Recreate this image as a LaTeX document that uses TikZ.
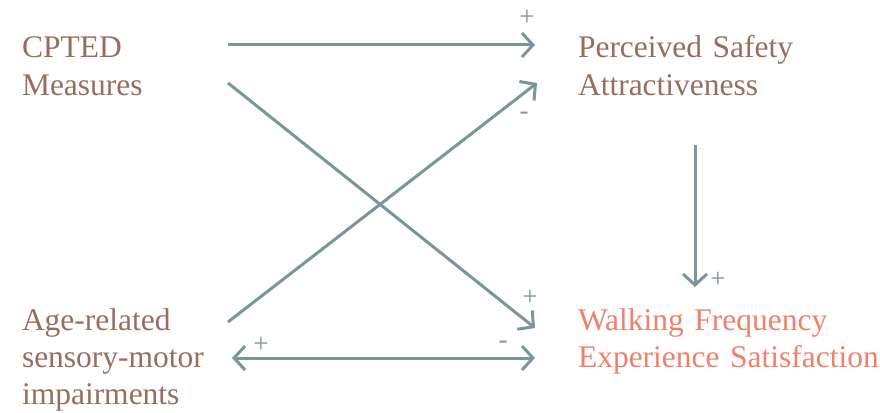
\documentclass[tikz,border=0pt]{standalone}
\usepackage{xcolor}
\usepackage{fontspec}
\setmainfont{Liberation Serif}
\usetikzlibrary{arrows.meta}

\definecolor{textbrown}{HTML}{966E5F}
\definecolor{salmon}{HTML}{F07F6C}
\definecolor{arrowgrey}{HTML}{7C959B}

\begin{document}
\begin{tikzpicture}[x=1pt, y=-1pt,
    label/.style={inner sep=0, outer sep=0, align=left, anchor=base west,
        font=\fontsize{31.5}{37}\selectfont, text=textbrown},
    leftlabel/.style={label, text width=200pt},
    rightlabel/.style={label, text width=340pt},
    link/.style={draw=arrowgrey, line width=3pt,
        -{Straight Barb[length=11pt, width=24pt]}},
    sign/.style={text=arrowgrey, font=\fontsize{27}{27}\selectfont, inner sep=0}]
    \useasboundingbox (0, 0) rectangle (880, 412);

    \node[leftlabel] at (22, 58) (C) {CPTED\\Measures};
    \node[rightlabel] at (578, 58) (P) {Perceived Safety\\Attractiveness};
    \node[leftlabel] at (22, 330) (A) {Age-related\\sensory-motor\\impairments};
    \node[rightlabel, text=salmon] at (578, 330) (W) {Walking Frequency\\Experience Satisfaction};

    \draw[link] ([xshift=6pt, yshift=13pt]C.base east) -- ([xshift=-43pt, yshift=13pt]P.base west)
        node[sign, at end, xshift=-8pt, yshift=27pt] {+};
    \draw[link] ([xshift=6pt, yshift=-25pt]C.base east) -- ([xshift=-43pt, yshift=2pt]W.base west)
        node[sign, at end, xshift=-5pt, yshift=30pt] {+};
    \draw[link] ([xshift=6pt, yshift=8pt]A.base east) -- ([xshift=-41pt, yshift=-25pt]P.base west)
        node[sign, at end, xshift=-13pt, yshift=-33pt] {-};
    \draw[link] ([xshift=117pt, yshift=-87pt]P.base west) -- ([xshift=117pt, yshift=43pt]W.base west)
        node[sign, at end, xshift=23pt, yshift=7pt] {+};
    \draw[link, {Straight Barb[length=11pt, width=24pt]}-{Straight Barb[length=11pt, width=24pt]}]
        ([xshift=10pt, yshift=-28pt]A.base east) -- ([xshift=-43pt, yshift=-28pt]W.base west)
        node[sign, at start, xshift=29pt, yshift=13pt] {+}
        node[sign, at end, xshift=-32pt, yshift=13pt] {-};
\end{tikzpicture}
\end{document}
